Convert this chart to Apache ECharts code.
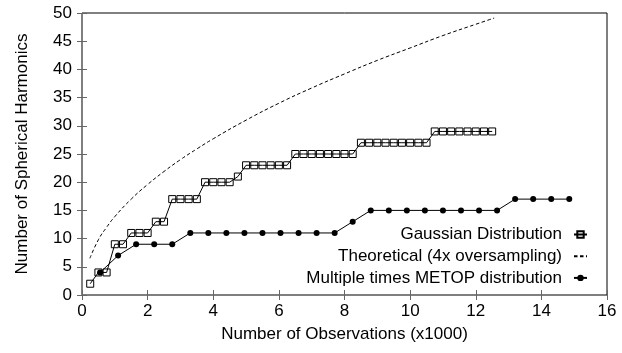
<!DOCTYPE html>
<html>
<head>
<meta charset="utf-8">
<script src="https://cdn.jsdelivr.net/npm/echarts@6/dist/echarts.min.js"></script>
<style>html,body{margin:0;padding:0;background:#fff}#c{width:622px;height:353px}</style>
</head>
<body>
<div id="c"></div>
<script>
// Gaussian Distribution (x in thousands of observations, y = number of harmonics)
var gaussX = [0.25,0.5,0.75,1.0,1.25,1.5,1.75,2.0,2.25,2.5,2.75,3.0,3.25,3.5,3.75,4.0,4.25,4.5,4.75,
  5.0,5.25,5.5,5.75,6.0,6.25,
  6.5,6.75,7.0,7.25,7.5,7.75,8.0,8.25,
  8.5,8.75,9.0,9.25,9.5,9.75,10.0,10.25,10.5,
  10.75,11.0,11.25,11.5,11.75,12.0,12.25,12.5];
var gaussY = [2,4,4,9,9,11,11,11,13,13,17,17,17,17,20,20,20,20,21,
  23,23,23,23,23,23,
  25,25,25,25,25,25,25,25,
  27,27,27,27,27,27,27,27,27,
  29,29,29,29,29,29,29,29];

// Theoretical (4x oversampling)
var theoX = [0.24,0.5,0.75,1.0,1.5,2.0,2.5,3.0,3.5,4.0,5.0,6.0,7.0,8.0,9.0,10.0,11.0,12.0,12.56];
var theoY = [6.5,9.8,12.0,13.9,17.0,19.6,21.9,24.0,25.9,27.7,31.0,34.0,36.7,39.2,41.6,43.8,46.0,48.0,49.1];

// Multiple times METOP distribution
var metopX = [0.55,1.1,1.65,2.2,2.75,3.3,3.85,4.4,4.95,5.5,6.05,6.6,7.15,7.7,8.25,
  8.8,9.35,9.9,10.45,11.0,11.55,12.1,12.65,13.2,13.75,14.3,14.85];
var metopY = [4,7,9,9,9,11,11,11,11,11,11,11,11,11,13,15,15,15,15,15,15,15,15,17,17,17,17];

var xTicks = [0,2,4,6,8,10,12,14,16];
var yTicks = [0,5,10,15,20,25,30,35,40,45,50];

function pairs(xs, ys){ return xs.map(function(x,i){ return [x, ys[i]]; }); }

var FONT = 'Liberation Sans';
var FS = 17;
var chart = echarts.init(document.getElementById('c'), null, {renderer:'canvas'});
var tickStyle = {show:true, inside:true, length:5, lineStyle:{color:'#666', width:1}};
chart.setOption({
  animation:false,
  backgroundColor:'#fff',
  grid:{left:82, right:15, top:13, bottom:58, show:true, borderColor:'#000', borderWidth:1, backgroundColor:'transparent'},
  xAxis:[{
    type:'value', min:xTicks[0], max:xTicks[xTicks.length-1], interval:2, position:'bottom',
    name:'Number of Observations (x1000)', nameLocation:'middle', nameGap:31,
    nameTextStyle:{fontFamily:FONT, fontSize:FS, color:'#000'},
    axisLine:{show:false}, axisTick:tickStyle, splitLine:{show:false},
    axisLabel:{fontFamily:FONT, fontSize:FS, color:'#000', margin:8}
  },{
    type:'value', min:xTicks[0], max:xTicks[xTicks.length-1], interval:2, position:'top',
    axisLine:{show:false}, axisTick:tickStyle, splitLine:{show:false}, axisLabel:{show:false}
  }],
  yAxis:[{
    type:'value', min:yTicks[0], max:yTicks[yTicks.length-1], interval:5, position:'left',
    name:'Number of Spherical Harmonics', nameLocation:'middle', nameGap:51,
    nameTextStyle:{fontFamily:FONT, fontSize:FS, color:'#000'},
    axisLine:{show:false}, axisTick:tickStyle, splitLine:{show:false},
    axisLabel:{fontFamily:FONT, fontSize:FS, color:'#000', margin:10}
  },{
    type:'value', min:yTicks[0], max:yTicks[yTicks.length-1], interval:5, position:'right',
    axisLine:{show:false}, axisTick:tickStyle, splitLine:{show:false}, axisLabel:{show:false}
  }],
  legend:{
    orient:'vertical', align:'right', right:29, top:219.5, itemGap:1.7, itemWidth:13, itemHeight:8,
    textStyle:{fontFamily:FONT, fontSize:FS, color:'#000', lineHeight:20, padding:[0,7,0,0]},
    data:[
      {name:'Gaussian Distribution'},
      {name:'Theoretical (4x oversampling)', itemStyle:{color:'rgba(0,0,0,0)', borderWidth:0, opacity:0}},
      {name:'Multiple times METOP distribution'}
    ]
  },
  series:[{
    name:'Gaussian Distribution', type:'line', xAxisIndex:0, yAxisIndex:0,
    data:pairs(gaussX, gaussY),
    symbol:'rect', symbolSize:7, showAllSymbol:true,
    lineStyle:{color:'#000', width:1},
    itemStyle:{color:'rgba(255,255,255,0)', borderColor:'#000', borderWidth:1}
  },{
    name:'Theoretical (4x oversampling)', type:'line', xAxisIndex:0, yAxisIndex:0,
    data:pairs(theoX, theoY), smooth:true, symbol:'none',
    lineStyle:{color:'#000', width:1, type:[3.5,2.5]},
    itemStyle:{color:'#000'}
  },{
    name:'Multiple times METOP distribution', type:'line', xAxisIndex:0, yAxisIndex:0,
    data:pairs(metopX, metopY),
    symbol:'circle', symbolSize:6, showAllSymbol:true,
    lineStyle:{color:'#000', width:1},
    itemStyle:{color:'#000', borderColor:'#000', borderWidth:0}
  }]
});
</script>
</body>
</html>
